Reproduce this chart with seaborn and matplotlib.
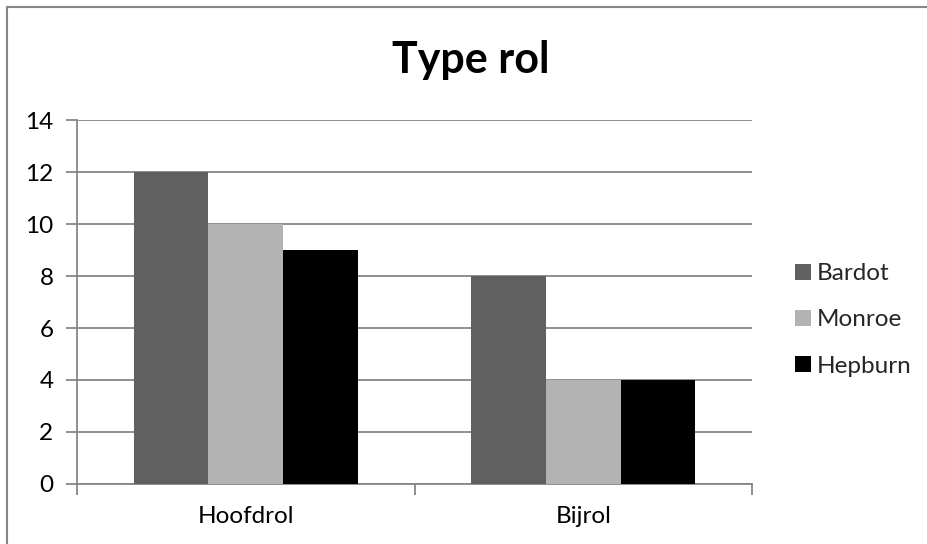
import matplotlib
matplotlib.use("Agg")
import matplotlib.pyplot as plt
from matplotlib.lines import Line2D
from matplotlib.patches import Patch
import seaborn as sns
import pandas as pd

categories = ["Hoofdrol", "Bijrol"]
series_names = ["Bardot", "Monroe", "Hepburn"]
bardot = [12, 8]
monroe = [10, 4]
hepburn = [9, 4]
colors = ["#606060", "#b3b3b3", "#000000"]
title = "Type rol"
yticks = [0, 2, 4, 6, 8, 10, 12, 14]

sns.set_style("white")
plt.rcParams["font.family"] = ["Lato", "DejaVu Sans"]

rows = []
for name, vals in zip(series_names, [bardot, monroe, hepburn]):
    for c, v in zip(categories, vals):
        rows.append({"rol": c, "waarde": v, "actrice": name})
df = pd.DataFrame(rows)

W, H = 927, 544
fig = plt.figure(figsize=(W / 100, H / 100), dpi=100)
ax = fig.add_axes([77 / W, (H - 484) / H, 675 / W, 364 / H])

grid_c = "#868686"
sns.barplot(data=df, x="rol", y="waarde", hue="actrice", order=categories,
            hue_order=series_names, palette=colors, width=0.664, gap=0,
            saturation=1, legend=False, ax=ax, linewidth=0, zorder=3)

ax.set_xlim(-0.5, 1.5)
ax.set_ylim(0, 14)
ax.set_yticks(yticks)
ax.set_yticklabels([str(t) for t in yticks])
ax.set_xlabel("")
ax.set_ylabel("")
ax.grid(axis="y", color=grid_c, linewidth=1.3, zorder=0)
ax.set_axisbelow(True)
for s in ["top", "right"]:
    ax.spines[s].set_visible(False)
for s in ["left", "bottom"]:
    ax.spines[s].set_color(grid_c)
    ax.spines[s].set_linewidth(1.3)

fs = 17.5
ax.tick_params(axis="y", which="major", direction="out", length=8, width=1.3,
               color=grid_c, pad=9, labelsize=fs, labelcolor="black", left=True)
ax.tick_params(axis="x", which="major", length=0, pad=16, labelsize=fs,
               labelcolor="black", bottom=True)
ax.set_xticks([-0.5, 0.5, 1.5], minor=True)
ax.tick_params(axis="x", which="minor", direction="out", length=8, width=1.3,
               color=grid_c, bottom=True)

fig.text(471 / W, 1 - 73 / H, title, ha="center", va="baseline",
         fontsize=31, fontweight="bold", color="black")

handles = [Patch(facecolor=c, edgecolor="none", label=n) for c, n in zip(colors, series_names)]
fig.legend(handles=handles, loc="center left", bbox_to_anchor=(795 / W, 1 - 320 / H),
           frameon=False, fontsize=fs, handlelength=0.65, handleheight=0.65,
           handletextpad=0.25, labelspacing=1.03, borderpad=0, borderaxespad=0)

x0 = 7 / W
y0 = 1 - 7 / H
fig.add_artist(Line2D([x0, x0], [0, y0], color=grid_c, linewidth=1.5,
                      transform=fig.transFigure))
fig.add_artist(Line2D([x0, 1], [y0, y0], color=grid_c, linewidth=1.5,
                      transform=fig.transFigure))

fig.savefig("out.png", dpi=100)
